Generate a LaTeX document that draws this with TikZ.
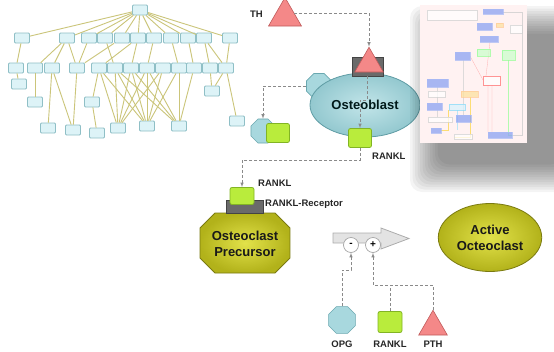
\documentclass[tikz,border=0pt]{standalone}
\usepackage{fontspec}
\setmainfont{Liberation Sans}
\usetikzlibrary{arrows}
\usetikzlibrary{shapes}
\usetikzlibrary{calc}
\usetikzlibrary{positioning}

\definecolor{treeline}{HTML}{CBC57A}
\definecolor{treefill}{HTML}{DDF3F7}
\definecolor{treedraw}{HTML}{8FBFC6}
\definecolor{opgfill}{HTML}{A8D8DE}
\definecolor{opgdraw}{HTML}{6AA8B0}
\definecolor{ranklfill}{HTML}{B9EC3C}
\definecolor{rankldraw}{HTML}{82B424}
\definecolor{pthfill}{HTML}{F48888}
\definecolor{pthdraw}{HTML}{C05A5A}
\definecolor{recfill}{HTML}{6A6A6A}
\definecolor{recdraw}{HTML}{444444}
\definecolor{clastin}{HTML}{E2E24A}
\definecolor{clastout}{HTML}{B2B21A}
\definecolor{clastdraw}{HTML}{7A7A10}
\definecolor{blastin}{HTML}{C2E5E9}
\definecolor{blastout}{HTML}{93C8CF}
\definecolor{blastdraw}{HTML}{5F9CA4}
\definecolor{linkgray}{HTML}{8A8A8A}
\definecolor{thumbblue}{HTML}{6F8CF0}

\tikzset{
  tbox/.style={draw=treedraw, fill=treefill, minimum width=15pt, minimum height=10pt,
    inner sep=0pt, rounded corners=1pt, line width=0.8pt},
  tedge/.style={draw=treeline, line width=0.9pt},
  link/.style={draw=linkgray, densely dashed, line width=0.6pt},
  octo/.style={regular polygon, regular polygon sides=8, minimum size=27pt, inner sep=0pt,
    draw=opgdraw, fill=opgfill, line width=0.6pt},
  rankl/.style={rectangle, rounded corners=2pt, minimum width=23pt, minimum height=19pt,
    inner sep=0pt, draw=rankldraw, fill=ranklfill, line width=0.8pt},
  pthtri/.style={regular polygon, regular polygon sides=3, minimum size=33pt, inner sep=0pt,
    draw=pthdraw, fill=pthfill, line width=0.6pt},
  recbar/.style={rectangle, draw=recdraw, fill=recfill, inner sep=0pt, line width=0.6pt},
  lbl/.style={font=\fontsize{9.5}{11}\selectfont\bfseries, text=black!85, inner sep=0pt},
  cell/.style={font=\fontsize{13}{16}\selectfont\bfseries, align=center},
  sign/.style={circle, draw=gray!70, fill=white, minimum size=15pt, inner sep=0pt,
    line width=0.7pt, font=\fontsize{10}{10}\selectfont\bfseries},
  thumb/.style={line width=0.3pt},
}

\begin{document}
\begin{tikzpicture}[x=1pt, y=-1pt, >=latex]
\useasboundingbox (0,0) rectangle (554,351);

%Osteoblast
\node[pthtri, minimum size=38pt] (topPth) at (285,16.5) {};
\node[lbl, anchor=east] (topPthLbl) at (263,14) {PTH};

\node[octo] (obOpg) at (319,86) {};
\node[cell, ellipse, draw=blastdraw, line width=0.8pt, inner color=blastin, outer color=blastout,
  minimum width=110pt, minimum height=64pt, text=black!80!teal] (osteoblast) at (365,105) {Osteoblast};
\node[recbar, minimum width=31pt, minimum height=19pt] (obRec) at (367.5,66.5) {};
\node[pthtri] (obPth) at (369,63.75) {};
\node[rankl] (obRankl) at (360,138) {};
\node[lbl, anchor=west] (obRanklLbl) at (372,156) {RANKL};

\coordinate (obBend) at (360,100);
\draw[link,->] (topPth.20) -| (obPth.north);
\draw[link,->] (obRec.south) |- (obBend) -- (obRankl.north);

\node[octo, minimum size=26pt] (lowOpg) at (263,131) {};
\node[rankl] (lowRankl) at (278,133) {};
\draw[link,->] (obOpg.west) -| (lowOpg.north);

%Osteoclast precursor
\shadedraw[draw=clastdraw, line width=0.8pt, inner color=clastin, outer color=clastout]
  (200,228) -- (215,213) -- (275,213) -- (290,228) -- (290,258) -- (275,273)
  -- (215,273) -- (200,258) -- cycle;
\node[cell, text=black!90] (precursor) at (245,244) {Osteoclast\\Precursor};
\node[recbar, minimum width=37pt, minimum height=13pt] (preRec) at (244.5,206.5) {};
\node[rankl, minimum width=24pt, minimum height=17pt] (preRankl) at (242,196) {};
\node[lbl, anchor=west] (preRanklLbl) at (258,183) {RANKL};
\node[lbl, anchor=west] (preRecLbl) at (265,204) {RANKL-Receptor};

\coordinate (preBend) at (242,160);
\draw[link,->] (obRankl.south) |- (preBend) -- (preRankl.north);

%Activation
\filldraw[draw=gray!65, fill=gray!22, line width=0.8pt] (333,233) -- (381,233) -- (381,228)
  -- (409,238.5) -- (381,249) -- (381,243) -- (333,243) -- cycle;
\node[sign] (minus) at (351,245) {-};
\node[sign] (plus) at (373,245) {+};

\node[octo, minimum size=29pt] (opg) at (342,320) {};
\node[rankl, minimum width=24pt, minimum height=21pt] (rankl) at (390,322) {};
\node[pthtri] (pth) at (433,326.75) {};
\node[lbl] (opgLbl) at (342,344) {OPG};
\node[lbl] (ranklLbl) at (390,344) {RANKL};
\node[lbl] (pthLbl) at (433,344) {PTH};

\coordinate (opgJoin) at (351,270);
\coordinate (plusJoin) at (373,285);
\draw[link,->] (opg.north) |- (opgJoin) -- (minus.south);
\draw[link] (rankl.north) -- (rankl.north |- plusJoin);
\draw[link,->] (pth.north) |- (plusJoin) -- (plus.south);

\node[cell, ellipse, draw=clastdraw, line width=0.8pt, inner color=clastin, outer color=clastout,
  minimum width=96pt, minimum height=68pt, text=black!90] (active) at (490,237.5) {Active\\Octeoclast};

%Tree
\fill[white] (0,0) rectangle (250,140);
\node[tbox] (r) at (140,10) {};
\foreach \n/\x in {1/22,2/67,3/89,4/105,5/122,6/138,7/154,8/171,9/188,10/204,11/230}
  \node[tbox] (a\n) at (\x,38) {};
\foreach \n/\x in {1/16,2/35,3/52,4/77,5/99,6/115,7/131,8/147,9/163,10/179,11/194,12/210,13/226}
  \node[tbox] (b\n) at (\x,68) {};
\foreach \n/\x/\y in {1/19/84,2/35/102,3/92/102,4/212/91,5/48/128,6/73/130,
    7/97/133,8/118/128,9/147/126,10/179/126,11/237/121}
  \node[tbox] (c\n) at (\x,\y) {};
\foreach \n in {1,...,11}
  \draw[tedge] (r) -- (a\n);
\foreach \u/\v in {a1/b1,a2/b2,a2/b3,a2/b4,a3/b4,a4/b6,a5/b4,a6/b5,a6/b7,a7/b8,
    a8/b10,a9/b11,a10/b12,a10/b13,a11/b13,
    b1/c1,b2/c2,b3/c5,b3/c6,b4/c6,b5/c3,b5/c8,b5/c9,c3/c7,b6/c8,b6/c9,b6/c10,
    b7/c8,b7/c9,b7/c10,b8/c8,b8/c9,b8/c10,b9/c8,b9/c9,b10/c9,b10/c10,b11/c10,
    b12/c4,b13/c4,b13/c11}
  \draw[tedge] (\u) -- (\v);

%Thumbnail with shadow
\begin{scope}
  \clip (0,0) rectangle (554,351);
  \foreach \i in {0,...,11}
    \fill[black, opacity=0.045, rounded corners=12pt] (410+2.5*\i,6+2.5*\i) rectangle (590-2.5*\i,192-2.5*\i);
\end{scope}
\fill[white] (420,5) rectangle (527,143);
\fill[red!5] (420,5) rectangle (527,143);
\begin{scope}[opacity=0.75]
\draw[thumb, red!40] (488,85) -- (488,132) (492,85) -- (492,132) (483,80) -- (470,56) (486,76) -- (490,42);
\draw[thumb, green!40] (508,60) -- (508,135) -- (512,135);
\draw[thumb, gray!40] (503,12) -- (522,12) -- (522,135) -- (512,135);
\draw[thumb, gray!35] (463,60) -- (463,115) (437,87) -- (437,103) (437,110) -- (437,117);
\draw[thumb, yellow!60!orange!70] (470,97) -- (470,137) -- (454,137) (448,110) -- (448,130) -- (441,130);
\draw[thumb, cyan!35] (457,110) -- (457,130);
\foreach \xa/\ya/\xb/\yb in {427/10/477/20,510/25/522/33,428/91/445/97,428/117/452/122,454/134/472/139}
  \filldraw[thumb, draw=gray!35, fill=white] (\xa,\ya) rectangle (\xb,\yb);
\foreach \xa/\ya/\xb/\yb in {483/9/503/14,477/23/492/30,480/36/498/42,455/52/470/60,427/79/448/87,
    427/103/442/110,456/115/471/122,431/128/441/133,488/132/512/138}
  \filldraw[thumb, draw=thumbblue!60, fill=thumbblue!80] (\xa,\ya) rectangle (\xb,\yb);
\foreach \xa/\ya/\xb/\yb in {496/23/503/27,461/91/478/97}
  \filldraw[thumb, draw=orange!40, fill=yellow!40!orange!35] (\xa,\ya) rectangle (\xb,\yb);
\foreach \xa/\ya/\xb/\yb in {477/49/490/56,502/50/515/60}
  \filldraw[thumb, draw=green!40, fill=green!20] (\xa,\ya) rectangle (\xb,\yb);
\filldraw[thumb, draw=cyan!45, fill=cyan!15] (449,104) rectangle (465,110);
\filldraw[thumb, draw=red!55, fill=white] (483,76) rectangle (500,85);
\end{scope}
\end{tikzpicture}
\end{document}
